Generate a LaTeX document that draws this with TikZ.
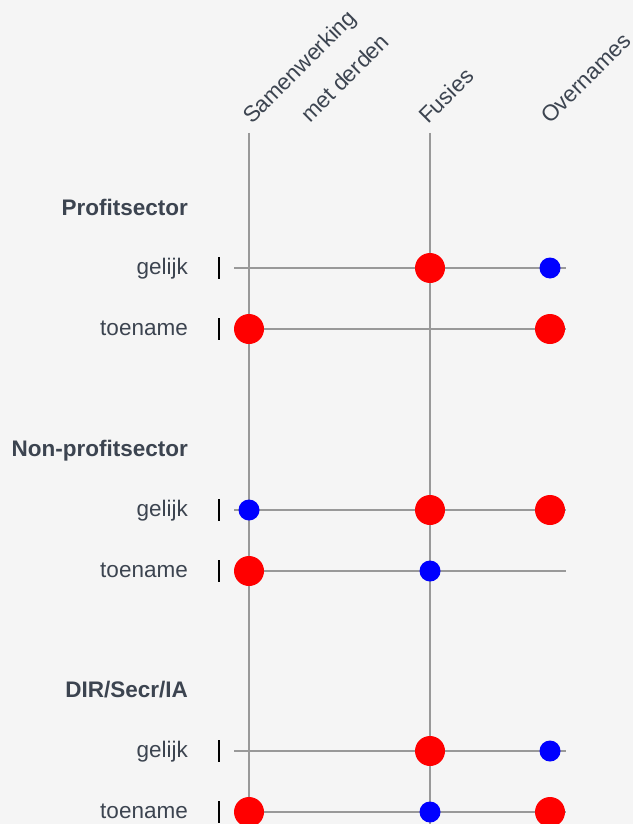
\documentclass[tikz,border=0pt]{standalone}
\usepackage{fontspec}
\setmainfont{Liberation Sans}
\definecolor{bg}{HTML}{F5F5F5}
\definecolor{txt}{HTML}{3C4450}
\definecolor{grid}{HTML}{999999}
\begin{document}
\begin{tikzpicture}[x=1pt,y=-1pt,
  lbl/.style={font=\fontsize{22.5}{26}\selectfont, text=txt, inner sep=0pt, anchor=base east},
  hdr/.style={lbl, font=\fontsize{22.5}{26}\selectfont\bfseries},
  col/.style={font=\fontsize{22.5}{26}\selectfont, text=txt, inner sep=0pt, anchor=base west, rotate=45},
  gline/.style={draw=grid, line width=2pt},
  tick/.style={draw=black, line width=1.3pt},
  big/.style={circle, fill=red, minimum size=30pt, inner sep=0pt},
  small/.style={circle, fill=blue, minimum size=21pt, inner sep=0pt}]
\fill[bg] (0,0) rectangle (633,824);
\useasboundingbox (0,0) rectangle (633,824);
% column labels
\node[col] (cs) at (252,125) {Samenwerking};
\node[col] (cm) at (310,124) {met derden};
\node[col] (cf) at (428,125) {Fusies};
\node[col] (co) at (550,125) {Overnames};
% vertical lines
\coordinate (vsT) at (249,133); \coordinate (vsB) at (249,830);
\coordinate (vfT) at (430,133); \coordinate (vfB) at (430,830);
\draw[gline] (vsT) -- (vsB);
\draw[gline] (vfT) -- (vfB);
% headers
\node[hdr] (h1) at (188,215) {Profitsector};
\node[hdr] (h2) at (188,456) {Non-profitsector};
\node[hdr] (h3) at (188,697) {DIR/Secr/IA};
% rows
\foreach \n/\y/\t in {r1/268/gelijk, r2/329/toename, r3/510/gelijk, r4/571/toename, r5/751/gelijk, r6/812/toename}{
  \node[lbl] (\n l) at (188,\y+6) {\t};
  \coordinate (\n a) at (219,\y-11);
  \coordinate (\n b) at (219,\y+11);
  \draw[tick] (\n a) -- (\n b);
  \coordinate (\n s) at (234,\y);
  \coordinate (\n e) at (566,\y);
  \draw[gline] (\n s) -- (\n e);
}
% dots
\node[big] (d1f) at (430,268) {};
\node[small] (d1o) at (550,268) {};
\node[big] (d2s) at (249,329) {};
\node[big] (d2o) at (550,329) {};
\node[small] (d3s) at (249,510) {};
\node[big] (d3f) at (430,510) {};
\node[big] (d3o) at (550,510) {};
\node[big] (d4s) at (249,571) {};
\node[small] (d4f) at (430,571) {};
\node[big] (d5f) at (430,751) {};
\node[small] (d5o) at (550,751) {};
\node[big] (d6s) at (249,812) {};
\node[small] (d6f) at (430,812) {};
\node[big] (d6o) at (550,812) {};
\end{tikzpicture}
\end{document}
